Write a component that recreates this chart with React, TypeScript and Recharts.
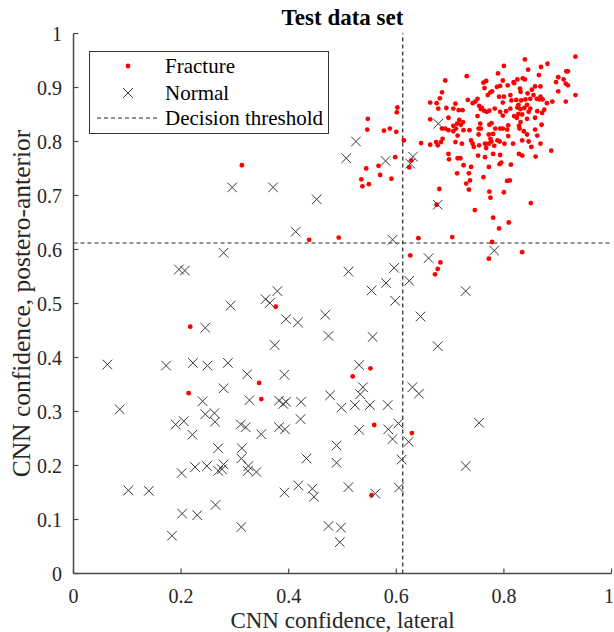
import React from 'react';
import { ScatterChart, Scatter, XAxis, YAxis, ReferenceLine, Legend } from 'recharts';

const FONT = '"Liberation Serif", "Times New Roman", serif';
const AXIS_COLOR = '#262626';
const SPINE_COLOR = '#4a4a4a';

const xTicks = [0, 0.2, 0.4, 0.6, 0.8, 1];
const yTicks = [0, 0.1, 0.2, 0.3, 0.4, 0.5, 0.6, 0.7, 0.8, 0.9, 1];
const threshold = 0.612;

// fracture cases, dense upper-right cluster (top part)
const fractureTop: [number, number][] = [
  [0.933, 0.957], [0.839, 0.952], [0.881, 0.944], [0.8, 0.94], [0.869, 0.938], [0.845, 0.933],
  [0.916, 0.93], [0.919, 0.93], [0.789, 0.926], [0.731, 0.921], [0.865, 0.923], [0.901, 0.919],
  [0.691, 0.913], [0.798, 0.913], [0.767, 0.912], [0.762, 0.909], [0.835, 0.917], [0.839, 0.915],
  [0.825, 0.915], [0.818, 0.91], [0.819, 0.908], [0.807, 0.904], [0.793, 0.903], [0.787, 0.901],
  [0.897, 0.91], [0.911, 0.915], [0.915, 0.907], [0.919, 0.904], [0.868, 0.902], [0.858, 0.902],
  [0.764, 0.899], [0.778, 0.893], [0.775, 0.891], [0.83, 0.898], [0.852, 0.896], [0.844, 0.889],
  [0.831, 0.892], [0.685, 0.891], [0.901, 0.893], [0.933, 0.886], [0.915, 0.874], [0.77, 0.886],
  [0.812, 0.886], [0.8, 0.883], [0.791, 0.883], [0.855, 0.886], [0.849, 0.879], [0.861, 0.879],
  [0.866, 0.878], [0.868, 0.883], [0.872, 0.878], [0.681, 0.88], [0.71, 0.87], [0.751, 0.879],
  [0.747, 0.874], [0.733, 0.877], [0.742, 0.871], [0.663, 0.872], [0.675, 0.871], [0.814, 0.876],
  [0.823, 0.877], [0.832, 0.876], [0.84, 0.878], [0.843, 0.868], [0.88, 0.871], [0.89, 0.874],
  [0.827, 0.868], [0.825, 0.863], [0.831, 0.86], [0.838, 0.862], [0.798, 0.872], [0.783, 0.861],
  [0.773, 0.857], [0.768, 0.855], [0.754, 0.866], [0.757, 0.86], [0.763, 0.857], [0.759, 0.862],
  [0.678, 0.861], [0.693, 0.862], [0.706, 0.861], [0.716, 0.858], [0.723, 0.858], [0.812, 0.861],
  [0.804, 0.856], [0.793, 0.855], [0.849, 0.861], [0.846, 0.855], [0.862, 0.856], [0.875, 0.859],
  [0.871, 0.853], [0.798, 0.848], [0.819, 0.847], [0.827, 0.851], [0.834, 0.85], [0.824, 0.844],
  [0.843, 0.842], [0.751, 0.847], [0.697, 0.844], [0.663, 0.841], [0.858, 0.844], [0.831, 0.836],
  [0.808, 0.83], [0.773, 0.831], [0.756, 0.833], [0.777, 0.834], [0.717, 0.84], [0.724, 0.836],
  [0.72, 0.831], [0.713, 0.833], [0.706, 0.829], [0.87, 0.831], [0.828, 0.829],
];

// fracture cases, lower part of the cluster
const fractureLow: [number, number][] = [
  [0.685, 0.824], [0.691, 0.824], [0.697, 0.821], [0.706, 0.819], [0.711, 0.824], [0.725, 0.821],
  [0.736, 0.821], [0.753, 0.824], [0.757, 0.824], [0.784, 0.824], [0.793, 0.824], [0.798, 0.824],
  [0.806, 0.822], [0.829, 0.824], [0.837, 0.819], [0.858, 0.822], [0.714, 0.811], [0.753, 0.813],
  [0.772, 0.813], [0.78, 0.814], [0.808, 0.81], [0.843, 0.813], [0.862, 0.811], [0.646, 0.797],
  [0.663, 0.794], [0.674, 0.799], [0.677, 0.793], [0.683, 0.799], [0.686, 0.805], [0.71, 0.799],
  [0.722, 0.796], [0.739, 0.802], [0.742, 0.796], [0.744, 0.79], [0.754, 0.793], [0.765, 0.796],
  [0.767, 0.788], [0.772, 0.796], [0.775, 0.805], [0.777, 0.8], [0.782, 0.792], [0.788, 0.802],
  [0.792, 0.8], [0.801, 0.796], [0.817, 0.796], [0.834, 0.802], [0.846, 0.8], [0.851, 0.79],
  [0.868, 0.796], [0.697, 0.777], [0.698, 0.767], [0.714, 0.769], [0.719, 0.769], [0.888, 0.783],
  [0.752, 0.774], [0.765, 0.771], [0.78, 0.777], [0.793, 0.775], [0.828, 0.777], [0.834, 0.774],
  [0.859, 0.772], [0.795, 0.761], [0.792, 0.758], [0.813, 0.757], [0.725, 0.756], [0.739, 0.753],
  [0.772, 0.753], [0.713, 0.741], [0.735, 0.741], [0.762, 0.734], [0.737, 0.728], [0.73, 0.722],
  [0.806, 0.727], [0.811, 0.728], [0.735, 0.711], [0.68, 0.712], [0.773, 0.707], [0.8, 0.706],
  [0.775, 0.696], [0.675, 0.683], [0.85, 0.686], [0.746, 0.673], [0.78, 0.659], [0.809, 0.65],
  [0.791, 0.639], [0.704, 0.623], [0.778, 0.614], [0.834, 0.595],
];

// fracture cases scattered elsewhere
const fractureSpread: [number, number][] = [
  [0.602, 0.863], [0.601, 0.854], [0.547, 0.842], [0.546, 0.822], [0.577, 0.82], [0.588, 0.824],
  [0.6, 0.818], [0.614, 0.802], [0.598, 0.771], [0.544, 0.75], [0.567, 0.755], [0.57, 0.738],
  [0.535, 0.73], [0.537, 0.717], [0.549, 0.721], [0.591, 0.731], [0.628, 0.765], [0.624, 0.752],
  [0.313, 0.756], [0.438, 0.618], [0.493, 0.622], [0.641, 0.621], [0.626, 0.589], [0.682, 0.576],
  [0.677, 0.564], [0.672, 0.554], [0.772, 0.583], [0.376, 0.494], [0.345, 0.353], [0.349, 0.323],
  [0.519, 0.365], [0.552, 0.38], [0.217, 0.457], [0.214, 0.334], [0.559, 0.275], [0.629, 0.26],
  [0.554, 0.145],
];

const normalCases: [number, number][] = [
  [0.678, 0.833], [0.677, 0.683], [0.66, 0.584], [0.782, 0.598], [0.525, 0.8], [0.507, 0.769],
  [0.58, 0.764], [0.631, 0.772], [0.626, 0.759], [0.371, 0.715], [0.452, 0.693], [0.413, 0.633],
  [0.593, 0.618], [0.295, 0.715], [0.279, 0.594], [0.196, 0.563], [0.207, 0.561], [0.292, 0.496],
  [0.245, 0.455], [0.063, 0.387], [0.172, 0.385], [0.222, 0.39], [0.249, 0.385], [0.287, 0.39],
  [0.323, 0.369], [0.279, 0.343], [0.24, 0.319], [0.327, 0.321], [0.086, 0.304], [0.19, 0.276],
  [0.205, 0.282], [0.221, 0.257], [0.245, 0.295], [0.262, 0.297], [0.263, 0.281], [0.311, 0.276],
  [0.32, 0.271], [0.269, 0.232], [0.313, 0.232], [0.312, 0.213], [0.226, 0.197], [0.248, 0.199],
  [0.269, 0.19], [0.276, 0.193], [0.279, 0.202], [0.201, 0.186], [0.325, 0.199], [0.324, 0.19],
  [0.102, 0.154], [0.14, 0.153], [0.202, 0.111], [0.23, 0.108], [0.264, 0.127], [0.312, 0.086],
  [0.183, 0.07], [0.511, 0.559], [0.596, 0.566], [0.581, 0.538], [0.624, 0.542], [0.554, 0.524],
  [0.598, 0.505], [0.379, 0.523], [0.357, 0.508], [0.365, 0.501], [0.395, 0.471], [0.417, 0.465],
  [0.468, 0.479], [0.645, 0.476], [0.474, 0.44], [0.556, 0.438], [0.374, 0.423], [0.392, 0.368],
  [0.531, 0.386], [0.538, 0.345], [0.533, 0.332], [0.63, 0.345], [0.642, 0.333], [0.382, 0.32],
  [0.39, 0.314], [0.395, 0.318], [0.423, 0.318], [0.477, 0.33], [0.498, 0.307], [0.523, 0.312],
  [0.551, 0.312], [0.584, 0.312], [0.349, 0.258], [0.382, 0.271], [0.393, 0.267], [0.422, 0.286],
  [0.531, 0.266], [0.585, 0.267], [0.593, 0.249], [0.604, 0.278], [0.623, 0.244], [0.489, 0.237],
  [0.489, 0.205], [0.433, 0.213], [0.61, 0.211], [0.34, 0.188], [0.392, 0.15], [0.418, 0.163],
  [0.444, 0.157], [0.447, 0.142], [0.511, 0.16], [0.561, 0.148], [0.605, 0.159], [0.474, 0.088],
  [0.497, 0.085], [0.495, 0.058], [0.729, 0.523], [0.677, 0.421], [0.754, 0.279], [0.729, 0.199],
];

const toPoints = (list: [number, number][]) => list.map(([x, y]) => ({ x, y }));
const fractureData = toPoints([...fractureTop, ...fractureLow, ...fractureSpread]);
const normalData = toPoints(normalCases);

const RedDot = (props: any) => <circle cx={props.cx} cy={props.cy} r={2.4} fill="#ff0000" />;

const Cross = (props: any) => {
  const { cx, cy } = props;
  const s = 4.8;
  return (
    <path
      d={`M${cx - s},${cy - s}L${cx + s},${cy + s}M${cx - s},${cy + s}L${cx + s},${cy - s}`}
      stroke="#3a3a3a"
      strokeWidth={1}
      fill="none"
    />
  );
};

const LegendBox = () => (
  <svg width={240} height={83} style={{ display: 'block', fontFamily: FONT }}>
    <rect x={0.5} y={0.5} width={239} height={82} fill="#fff" stroke="#333" strokeWidth={1} />
    <circle cx={39} cy={15} r={2.4} fill="#ff0000" />
    <path d="M34.2,37.2L43.8,46.8M34.2,46.8L43.8,37.2" stroke="#3a3a3a" strokeWidth={1} />
    <line x1={8} x2={68} y1={67} y2={67} stroke={AXIS_COLOR} strokeWidth={1} strokeDasharray="4 3" />
    <text x={76} y={22} fontSize={21} fill="#000">Fracture</text>
    <text x={76} y={49} fontSize={21} fill="#000">Normal</text>
    <text x={76} y={74} fontSize={21} fill="#000">Decision threshold</text>
  </svg>
);

const tickStyle = { fill: AXIS_COLOR, fontSize: 20, fontFamily: FONT };

export default function App() {
  return (
    <div style={{ position: 'absolute', left: 0, top: 0, width: 614, height: 632, background: '#fff', fontFamily: FONT }}>
      <div
        style={{
          position: 'absolute',
          left: 73.5,
          width: 538,
          top: 6,
          textAlign: 'center',
          fontWeight: 'bold',
          fontSize: 23,
          lineHeight: '23px',
          color: '#000',
          zIndex: 2,
        }}
      >
        Test data set
      </div>
      <ScatterChart width={614} height={632} margin={{ top: 33.5, right: 2.5, bottom: 0, left: 0 }}>
        <XAxis
          type="number"
          dataKey="x"
          domain={[0, 1]}
          ticks={xTicks}
          height={58.5}
          tickSize={-5}
          tickMargin={20}
          tick={tickStyle}
          axisLine={{ stroke: SPINE_COLOR, strokeWidth: 1.5 }}
          tickLine={{ stroke: SPINE_COLOR, strokeWidth: 1.2 }}
          allowDataOverflow
          label={{
            value: 'CNN confidence, lateral',
            position: 'insideBottom',
            offset: 4,
            fill: AXIS_COLOR,
            fontSize: 23,
            fontFamily: FONT,
          }}
        />
        <YAxis
          type="number"
          dataKey="y"
          domain={[0, 1]}
          ticks={yTicks}
          width={73.5}
          tickSize={-5}
          tickMargin={16.5}
          tick={tickStyle}
          axisLine={{ stroke: SPINE_COLOR, strokeWidth: 1.5 }}
          tickLine={{ stroke: SPINE_COLOR, strokeWidth: 1.2 }}
          allowDataOverflow
          label={{
            value: 'CNN confidence, postero-anterior',
            angle: -90,
            position: 'center',
            dx: -16,
            fill: AXIS_COLOR,
            fontSize: 25.5,
            fontFamily: FONT,
          }}
        />
        <Scatter name="Fracture" data={fractureData} shape={RedDot} isAnimationActive={false} />
        <Scatter name="Normal" data={normalData} shape={Cross} isAnimationActive={false} />
        <ReferenceLine x={threshold} stroke={AXIS_COLOR} strokeWidth={1.2} strokeDasharray="4 3" />
        <ReferenceLine y={threshold} stroke={AXIS_COLOR} strokeWidth={1.2} strokeDasharray="4 3" />
        <Legend
          layout="vertical"
          align="center"
          verticalAlign="middle"
          content={() => <LegendBox />}
          wrapperStyle={{ left: 89, top: 51, width: 240, height: 83 }}
        />
      </ScatterChart>
    </div>
  );
}
